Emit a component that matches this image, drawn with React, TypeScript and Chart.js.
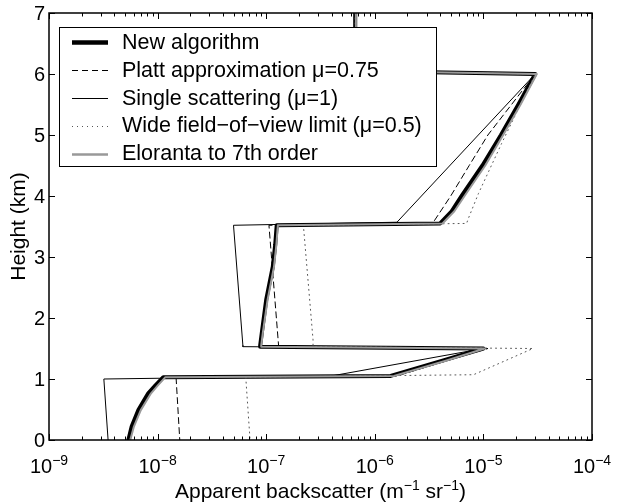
import React, { useEffect, useRef } from "react";
import { Chart, registerables } from "chart.js";

Chart.register(...registerables);

// ---- data (height in km, apparent backscatter in m^-1 sr^-1) ----
const newAlgHeights = [7.0, 6.05, 6.0, 5.5, 5.0, 4.5, 4.0, 3.75, 3.55, 3.52, 3.2, 2.84, 2.3, 1.75, 1.55, 1.53, 1.5, 1.3, 1.05, 1.03, 0.9, 0.765, 0.49, 0.22, 0.0];
const newAlgValues = [6.6e-7, 6.6e-7, 3.0e-5, 2.1e-5, 1.45e-5, 9.8e-6, 6.3e-6, 5.1e-6, 4.0e-6, 1.25e-7, 1.21e-7, 1.15e-7, 1.0e-7, 9.1e-8, 8.8e-8, 8.8e-8, 1.0e-5, 4.2e-6, 1.4e-6, 1.13e-8, 9.6e-9, 8.2e-9, 6.65e-9, 5.77e-9, 5.38e-9];

const elorantaHeights = [7.0, 6.05, 6.0, 5.5, 5.0, 4.5, 4.0, 3.75, 3.55, 3.52, 3.2, 2.84, 2.3, 1.75, 1.55, 1.53, 1.5, 1.3, 1.05, 1.03, 0.9, 0.765, 0.49, 0.22, 0.0];
const elorantaValues = [6.7e-7, 6.7e-7, 3.1e-5, 2.2e-5, 1.52e-5, 1.04e-5, 6.7e-6, 5.4e-6, 4.2e-6, 1.28e-7, 1.24e-7, 1.18e-7, 1.03e-7, 9.3e-8, 9.0e-8, 9.0e-8, 1.03e-5, 4.5e-6, 1.5e-6, 1.18e-8, 1.01e-8, 8.7e-9, 7.0e-9, 6.05e-9, 5.6e-9];

const plattHeights = [7.0, 6.05, 6.0, 5.0, 4.5, 4.0, 3.55, 3.52, 1.55, 1.53, 1.5, 1.3, 1.05, 1.02, 0.0];
const plattValues = [6.6e-7, 6.6e-7, 3.0e-5, 1.1e-5, 7.4e-6, 5.0e-6, 3.4e-6, 1.06e-7, 1.3e-7, 1.3e-7, 1.1e-5, 4.6e-6, 1.6e-6, 1.48e-8, 1.6e-8];

const singleHeights = [7.0, 6.05, 6.0, 3.57, 3.52, 1.55, 1.53, 1.5, 1.05, 1.0, 0.0];
const singleValues = [6.6e-7, 6.6e-7, 3.0e-5, 1.6e-6, 5.0e-8, 6.1e-8, 6.1e-8, 1.0e-5, 4.0e-7, 3.2e-9, 3.5e-9];

const wideHeights = [7.0, 6.05, 6.0, 4.86, 4.04, 3.64, 3.55, 3.52, 1.64, 1.53, 1.5, 1.07, 1.03, 1.0, 0.0];
const wideValues = [6.6e-7, 6.6e-7, 3.0e-5, 1.47e-5, 9.0e-6, 7.3e-6, 7.0e-6, 2.2e-7, 2.7e-7, 2.7e-7, 2.86e-5, 8.1e-6, 6.5e-8, 6.5e-8, 7.1e-8];

const xTickExponents = [-9, -8, -7, -6, -5, -4];
const yTicks = [0, 1, 2, 3, 4, 5, 6, 7];

const legendLabels = [
  "New algorithm",
  "Platt approximation \u03bc=0.75",
  "Single scattering (\u03bc=1)",
  "Wide field\u2212of\u2212view limit (\u03bc=0.5)",
  "Eloranta to 7th order",
];

const FONT = '"Liberation Sans", Arial, Helvetica, sans-serif';

const toPoints = (h: number[], v: number[]) => h.map((y, i) => ({ x: v[i], y }));

const styles = [
  { color: "#000000", width: 4, dash: [] as number[] },
  { color: "#000000", width: 1, dash: [6, 4] },
  { color: "#000000", width: 1, dash: [] as number[] },
  { color: "#555555", width: 1, dash: [1, 4] },
  { color: "#999999", width: 2, dash: [] as number[] },
];

const overlayPlugin = {
  id: "overlay",
  afterDraw(chart: any) {
    const ctx: CanvasRenderingContext2D = chart.ctx;
    const { left, right, top, bottom } = chart.chartArea;
    const xs = chart.scales.x;
    const ys = chart.scales.y;
    ctx.save();
    ctx.strokeStyle = "#000";
    ctx.lineWidth = 1;
    // ticks (inward, on all four sides)
    ctx.beginPath();
    for (let e = -9; e < -4; e++) {
      for (let m = 2; m <= 9; m++) {
        const px = Math.round(xs.getPixelForValue(m * Math.pow(10, e))) + 0.5;
        ctx.moveTo(px, bottom);
        ctx.lineTo(px, bottom - 3.5);
        ctx.moveTo(px, top);
        ctx.lineTo(px, top + 3.5);
      }
    }
    for (const e of xTickExponents) {
      const px = Math.round(xs.getPixelForValue(Math.pow(10, e))) + 0.5;
      ctx.moveTo(px, bottom);
      ctx.lineTo(px, bottom - 6);
      ctx.moveTo(px, top);
      ctx.lineTo(px, top + 6);
    }
    for (const v of yTicks) {
      const py = Math.round(ys.getPixelForValue(v)) + 0.5;
      ctx.moveTo(left, py);
      ctx.lineTo(left + 6, py);
      ctx.moveTo(right, py);
      ctx.lineTo(right - 6, py);
    }
    ctx.stroke();
    // box
    ctx.lineWidth = 1.5;
    ctx.strokeRect(left, top, right - left, bottom - top);

    // x tick labels: 10^e
    ctx.fillStyle = "#000";
    ctx.textBaseline = "alphabetic";
    ctx.textAlign = "left";
    for (const e of xTickExponents) {
      const px = xs.getPixelForValue(Math.pow(10, e));
      const base = "10";
      const exp = "\u2212" + String(-e);
      ctx.font = `20px ${FONT}`;
      const wb = ctx.measureText(base).width;
      ctx.font = `14px ${FONT}`;
      const we = ctx.measureText(exp).width;
      const x0 = px - (wb + we) / 2;
      ctx.font = `20px ${FONT}`;
      ctx.fillText(base, x0, bottom + 33);
      ctx.font = `14px ${FONT}`;
      ctx.fillText(exp, x0 + wb, bottom + 25);
    }
    // y tick labels
    ctx.font = `20px ${FONT}`;
    ctx.textAlign = "right";
    ctx.textBaseline = "middle";
    for (const v of yTicks) {
      const py = ys.getPixelForValue(v);
      ctx.fillText(String(v), left - 4, py + 1);
    }
    // x title with superscripts
    const parts: [string, boolean][] = [
      ["Apparent backscatter (m", false],
      ["\u22121", true],
      [" sr", false],
      ["\u22121", true],
      [")", false],
    ];
    ctx.textBaseline = "alphabetic";
    ctx.textAlign = "left";
    let total = 0;
    for (const [t, sup] of parts) {
      ctx.font = `${sup ? 14 : 21}px ${FONT}`;
      total += ctx.measureText(t).width;
    }
    let cx = (left + right) / 2 - total / 2;
    for (const [t, sup] of parts) {
      ctx.font = `${sup ? 14 : 21}px ${FONT}`;
      ctx.fillText(t, cx, sup ? bottom + 50 : bottom + 58);
      cx += ctx.measureText(t).width;
    }
    // y title
    ctx.save();
    ctx.translate(19, (top + bottom) / 2);
    ctx.rotate(-Math.PI / 2);
    ctx.font = `21px ${FONT}`;
    ctx.textAlign = "center";
    ctx.textBaseline = "middle";
    ctx.fillText("Height (km)", 0, 0);
    ctx.restore();

    // legend
    const lx = 59, ly = 27, lw = 377, lh = 139;
    ctx.fillStyle = "#fff";
    ctx.fillRect(lx, ly, lw, lh);
    ctx.strokeStyle = "#000";
    ctx.lineWidth = 1;
    ctx.strokeRect(lx + 0.5, ly + 0.5, lw, lh);
    const rowH = lh / 5;
    legendLabels.forEach((label, i) => {
      const cy = ly + 1.5 + rowH * (i + 0.5);
      const s = styles[i];
      ctx.beginPath();
      ctx.strokeStyle = s.color;
      ctx.lineWidth = i === 0 ? 4.5 : i === 4 ? 2.5 : s.width;
      ctx.setLineDash(s.dash);
      ctx.moveTo(lx + 13, Math.round(cy) + 0.5);
      ctx.lineTo(lx + 49, Math.round(cy) + 0.5);
      ctx.stroke();
      ctx.setLineDash([]);
      ctx.fillStyle = "#000";
      ctx.font = `21.5px ${FONT}`;
      ctx.textAlign = "left";
      ctx.textBaseline = "alphabetic";
      ctx.fillText(label, lx + 63, cy + 6.5);
    });
    ctx.restore();
  },
};

export default function App() {
  const ref = useRef<HTMLCanvasElement | null>(null);
  useEffect(() => {
    if (!ref.current) return;
    const series = [
      toPoints(newAlgHeights, newAlgValues),
      toPoints(plattHeights, plattValues),
      toPoints(singleHeights, singleValues),
      toPoints(wideHeights, wideValues),
      toPoints(elorantaHeights, elorantaValues),
    ];
    const chart = new Chart(ref.current, {
      type: "scatter",
      data: {
        datasets: series.map((data, i) => ({
          label: legendLabels[i],
          data,
          showLine: true,
          borderColor: styles[i].color,
          borderWidth: styles[i].width,
          borderDash: styles[i].dash,
          pointRadius: 0,
          tension: 0,
          fill: false,
          order: 5 - i,
          borderJoinStyle: "round" as const,
          borderCapStyle: "round" as const,
        })),
      },
      options: {
        animation: false,
        responsive: false,
        devicePixelRatio: 1,
        layout: { padding: { left: 49, right: 32, top: 13, bottom: 64 } },
        plugins: { legend: { display: false }, tooltip: { enabled: false } },
        scales: {
          x: { type: "logarithmic", min: 1e-9, max: 1e-4, display: false },
          y: { type: "linear", min: 0, max: 7, display: false },
        },
      },
      plugins: [overlayPlugin],
    });
    return () => chart.destroy();
  }, []);
  return (
    <div style={{ position: "fixed", left: 0, top: 0, width: 624, height: 504, background: "#fff" }}>
      <canvas ref={ref} width={624} height={504} style={{ width: 624, height: 504 }} />
    </div>
  );
}
